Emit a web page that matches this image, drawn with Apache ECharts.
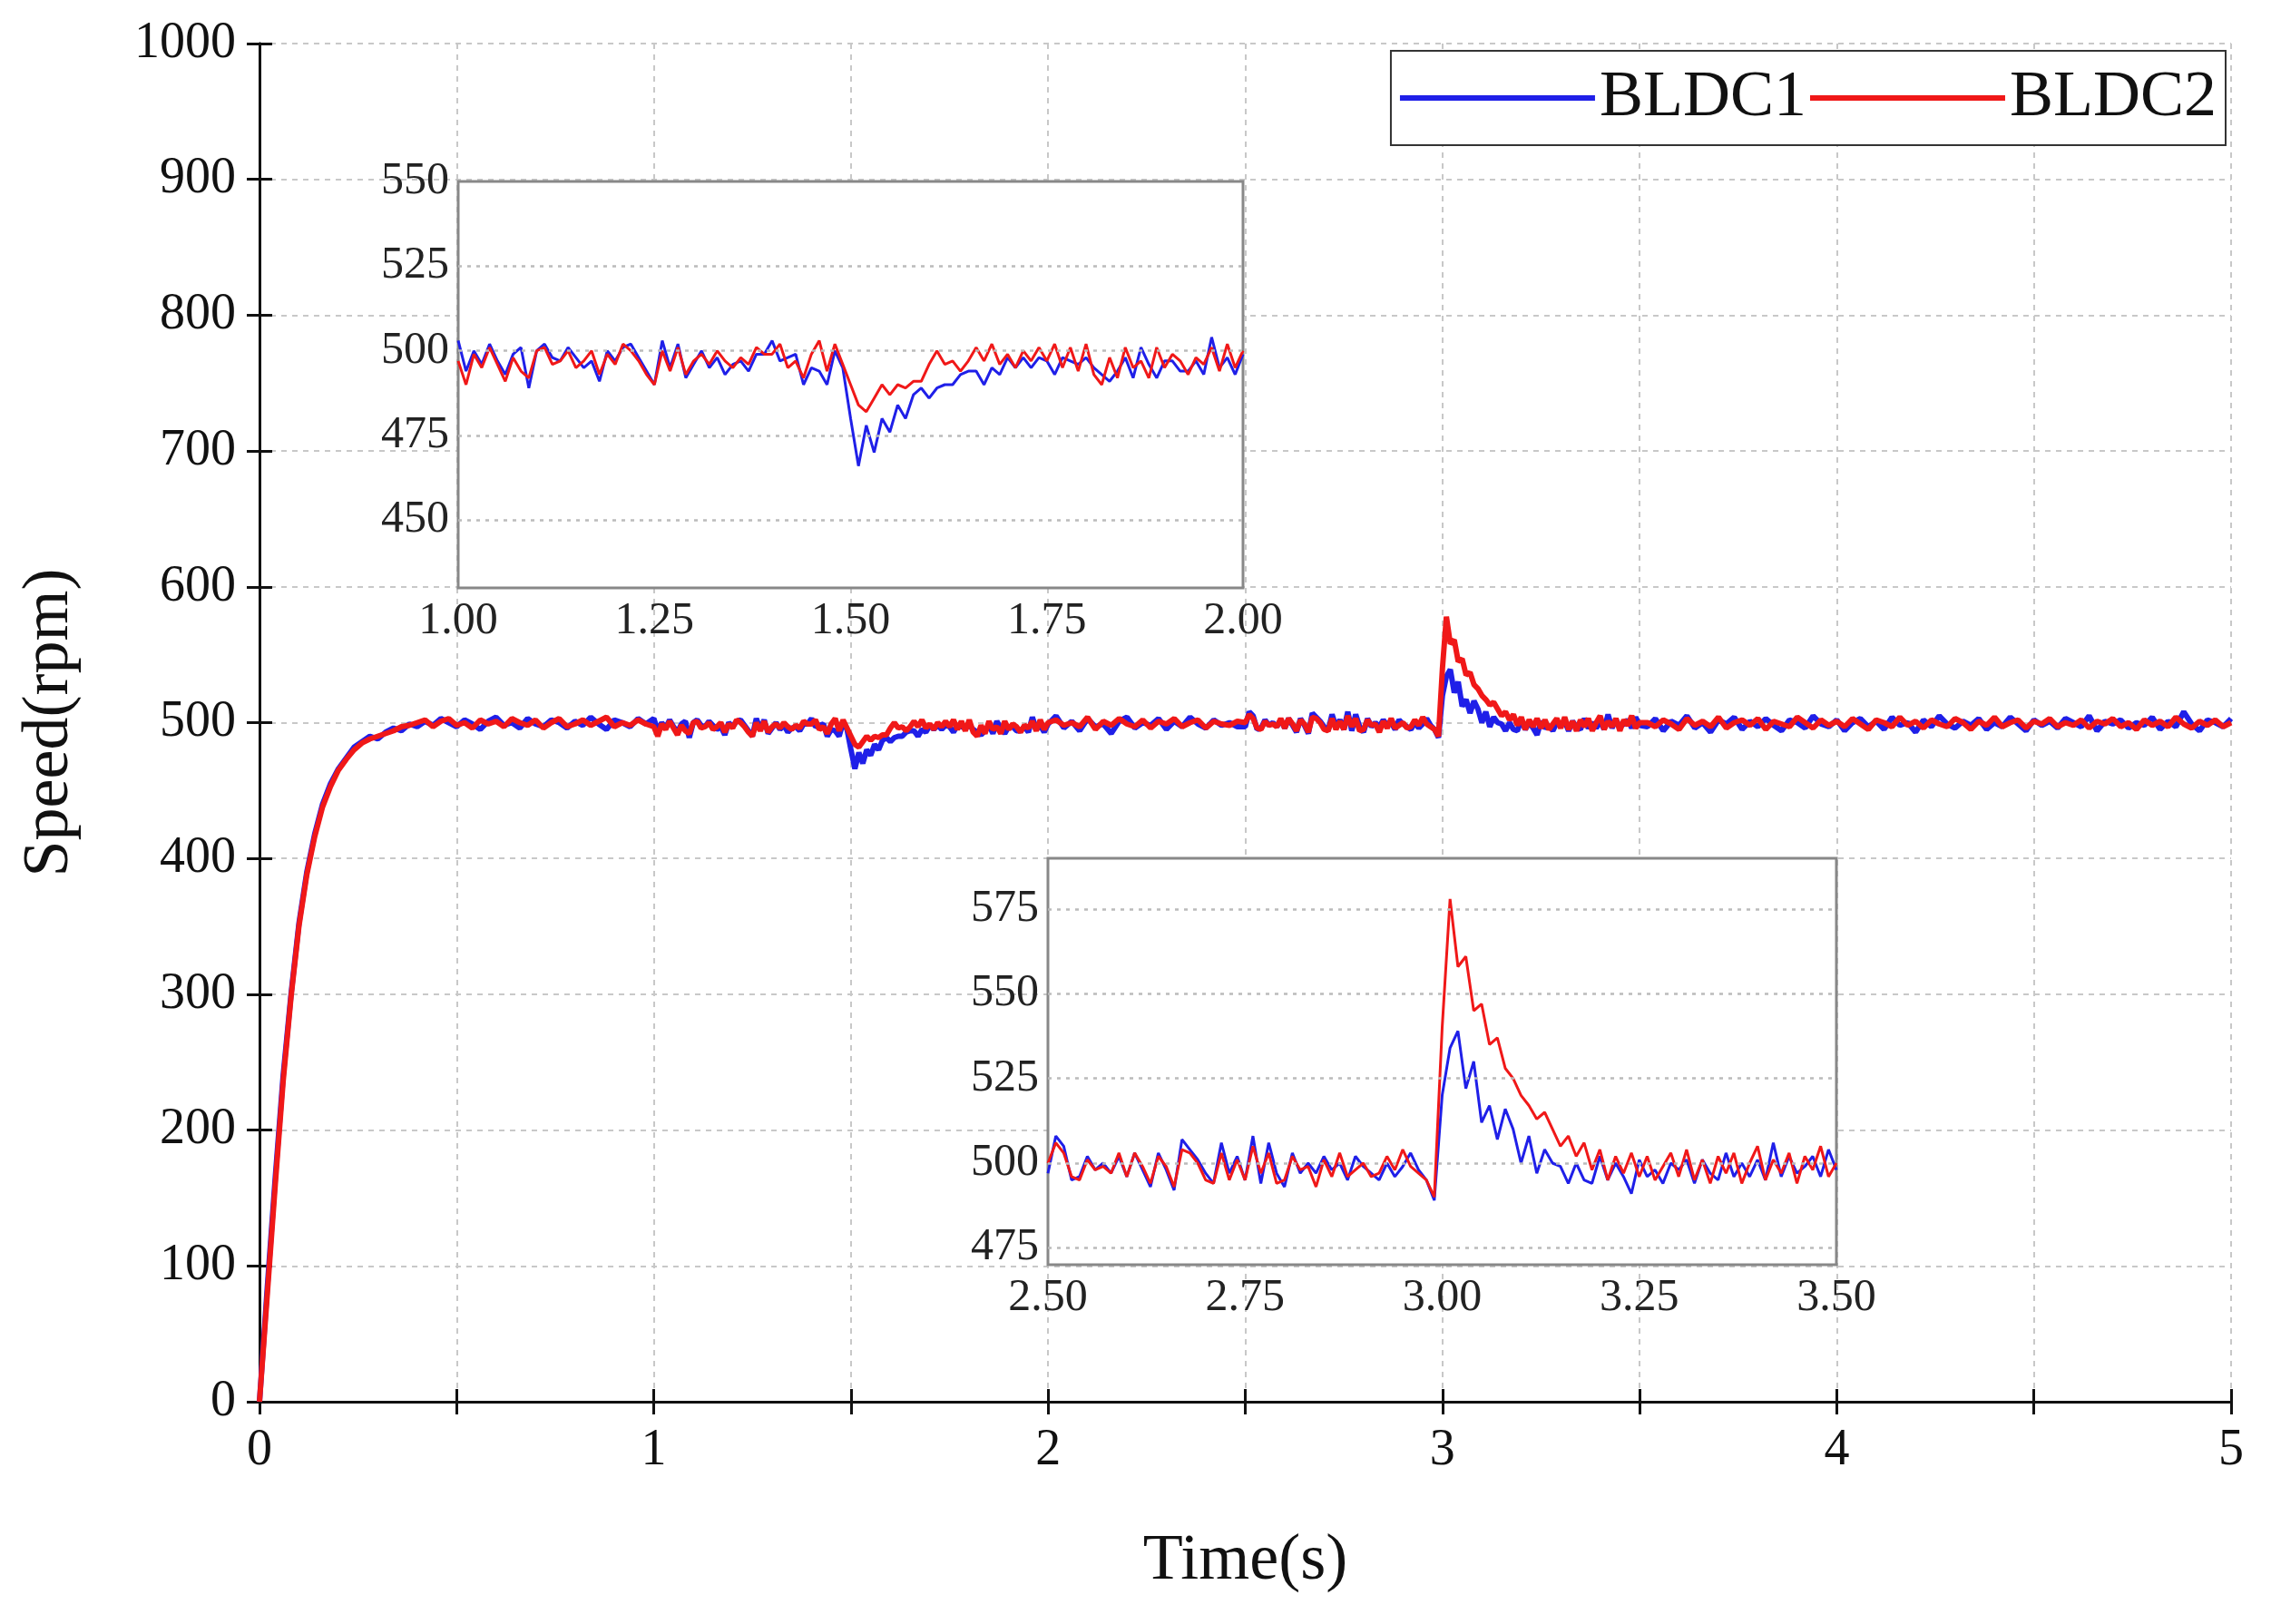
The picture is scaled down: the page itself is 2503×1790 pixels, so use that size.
<!DOCTYPE html>
<html>
<head>
<meta charset="utf-8">
<script src="https://cdn.jsdelivr.net/npm/echarts@6/dist/echarts.min.js"></script>
<style>html,body{margin:0;padding:0;background:#fff}#chart{width:2503px;height:1790px}</style>
</head>
<body>
<div id="chart"></div>
<script>
// startup 0..0.98 s, step 0.02
const startBLDC1 = [0,85,165,240,300,352,390,418,440,455,466,474,482,486,490,488,493,496,494,499,497,501,498,503,500,497,502,499,495,501,504,498,500,496,503,499,497,502,500,496,501,498,504,499,495,502,500,497,503,499];
const startBLDC2 = [0,80,160,236,298,350,388,416,438,453,465,473,480,485,488,490,492,494,497,498,500,502,497,501,503,498,500,496,502,499,501,497,503,500,498,502,496,500,503,497,499,502,498,501,504,497,500,498,502,499];
// 1.00..2.00 s, step 0.01
const dipBLDC1 = [503,494,500,496,502,497,493,499,501,489,500,502,498,497,501,498,495,497,491,500,497,501,502,498,494,490,503,495,502,492,496,500,495,498,493,496,497,494,499,499,503,497,498,499,490,495,494,490,500,495,
  480,466,478,470,480,476,484,480,487,489,
  486,489,490,490,493,494,494,490,495,493,
  498,495,498,495,498,497,493,498,497,496,
  498,495,493,491,494,498,492,501,496,492,
  497,497,494,494,497,493,504,495,498,493,499];
const dipBLDC2 = [497,490,499,495,501,496,491,498,494,492,500,501,496,497,500,495,497,500,493,499,496,502,500,497,493,490,500,494,501,493,497,499,496,500,497,495,498,496,501,499,499,502,495,497,492,499,503,494,502,496,
  490,484,482,486,490,487,490,489,491,491,
  496,500,496,497,494,497,501,497,502,496,
  499,495,500,497,501,497,502,495,501,494,
  502,493,490,498,492,501,495,497,492,501,
  495,499,497,493,498,496,501,494,502,495,500];
// 2.02..2.48 s, step 0.02
const midBLDC1 = [505,496,501,494,503,497,499,492,501,504,496,500,498,503,495,501,497,504,499,496,502,498,500,497];
const midBLDC2 = [502,498,500,497,504,495,501,498,503,499,497,502,496,501,499,503,497,500,502,496,501,499,498,501];
// 2.50..3.50 s, step 0.01
const peakBLDC1 = [497,508,505,495,496,502,498,500,497,502,496,503,498,493,503,498,492,507,504,501,497,494,506,497,502,495,508,494,506,497,493,503,497,500,497,502,498,500,495,502,499,497,495,500,496,499,503,498,495,489,
  520,534,539,522,530,512,517,507,516,510,
  500,508,497,504,500,499,494,500,495,494,
  502,495,500,496,491,501,496,498,494,500,
  498,501,494,501,497,495,503,496,500,496,
  501,495,506,496,502,497,499,502,496,504,498];
const peakBLDC2 = [500,506,503,496,495,501,498,499,497,503,496,503,499,494,502,499,493,504,503,500,495,494,503,495,501,495,505,497,503,494,495,502,498,499,493,501,496,503,496,498,500,496,497,502,498,504,499,497,495,490,
  540,578,558,561,545,547,535,537,528,525,
  520,517,513,515,510,505,508,502,506,498,
  504,495,502,497,503,496,502,495,499,503,
  496,504,495,501,494,502,497,503,494,500,
  505,495,501,497,503,494,502,498,505,496,500];
// 3.52..5.00 s, step 0.02
const tailBLDC1 = [497,503,494,501,498,505,496,500,493,502,499,504,495,501,497,503,498,494,502,500,496,505,499,497,502,494,500,503,497,501,495,504,498,500,493,502,497,505,499,496,501,498,503,495,500,497,504,499,494,502,498,501,496,503,500,497,505,494,501,499,502,496,500,498,504,495,501,497,508,499,494,502,500,497,503];
const tailBLDC2 = [500,497,502,499,495,503,498,501,497,504,496,500,502,498,503,495,501,499,497,504,500,496,502,498,501,497,503,499,495,502,500,497,504,498,501,496,502,499,497,503,500,495,501,498,504,497,500,502,496,501,499,503,497,500,498,502,496,501,499,503,497,500,495,502,498,501,497,504,499,496,501,498,502,497,500];

const mainYTicks = [0, 1000, 100];
const inset1Y = [430, 550, [450, 475, 500, 525]];
const inset2Y = [470, 590, [475, 500, 525, 550, 575]];

function seg(arr, t0, dt) {
  return arr.map((v, i) => [+(t0 + i * dt).toFixed(3), v]);
}
function whole(s, d, m, p, t) {
  return [].concat(seg(s, 0, 0.02), seg(d, 1, 0.01), seg(m, 2.02, 0.02), seg(p, 2.5, 0.01), seg(t, 3.52, 0.02)).filter(p => p[0] <= 5);
}
const full1 = whole(startBLDC1, dipBLDC1, midBLDC1, peakBLDC1, tailBLDC1);
const full2 = whole(startBLDC2, dipBLDC2, midBLDC2, peakBLDC2, tailBLDC2);

const font = 'Liberation Serif';
const blue = '#1f1fe8', red = '#f01818';
const dash = { type: [6, 6], color: '#c8c8c8', width: 2 };
const blackLine = { show: true, lineStyle: { color: '#111', width: 3 } };
const tick = { inside: true, length: 14, lineStyle: { color: '#111', width: 3 } };

function insetX(idx, min, max) {
  return {
    type: 'value', gridIndex: idx, min, max, interval: 0.25,
    axisLine: { show: false }, axisTick: { show: false },
    axisLabel: { fontFamily: font, fontSize: 50, color: '#222', margin: 12, formatter: v => v.toFixed(2) },
    splitLine: { show: true, lineStyle: { type: [5, 5], color: '#bbb', width: 1.5 } }
  };
}
function insetYAxis(idx, range) {
  return {
    type: 'value', gridIndex: idx, min: range[0], max: range[1], interval: 5,
    axisLine: { show: false }, axisTick: { show: false }, splitLine: { show: false },
    axisLabel: { fontFamily: font, fontSize: 50, color: '#222', margin: 10,
      formatter: v => (v % 25 === 0 ? String(v) : '') }
  };
}
function gridMarks(vals) {
  return {
    silent: true, symbol: 'none', label: { show: false },
    lineStyle: { type: [4, 6], color: '#bbb', width: 2.5 },
    data: vals.map(v => ({ yAxis: v }))
  };
}
function line(name, data, color, xi, yi, w, extra) {
  return Object.assign({
    name, type: 'line', xAxisIndex: xi, yAxisIndex: yi, data,
    symbol: 'none', showSymbol: false, animation: false, lineStyle: { color, width: w }, itemStyle: { color }
  }, extra || {});
}

const chart = echarts.init(document.getElementById('chart'));
chart.setOption({
  backgroundColor: '#fff',
  animation: false,
  legend: {
    data: [{ name: 'BLDC1', icon: 'rect' }, { name: 'BLDC2', icon: 'rect' }], right: 50, top: 56, orient: 'horizontal',
    itemWidth: 215, itemHeight: 6, itemGap: 4,
    textStyle: { fontFamily: font, fontSize: 72, color: '#111' },
    borderColor: '#333', borderWidth: 2, padding: [16, 10, 16, 10], backgroundColor: '#fff'
  },
  grid: [
    { left: 286, top: 48, width: 2173, height: 1497 },
    { left: 505, top: 200, width: 865, height: 448, show: true, borderColor: '#888', borderWidth: 3, backgroundColor: '#fff', z: 3 },
    { left: 1155, top: 946, width: 869, height: 448, show: true, borderColor: '#888', borderWidth: 3, backgroundColor: '#fff', z: 3 }
  ],
  xAxis: [
    { type: 'value', gridIndex: 0, min: 0, max: 5, interval: 0.5, name: 'Time(s)', nameLocation: 'middle', nameGap: 140,
      nameTextStyle: { fontFamily: font, fontSize: 72, color: '#111' },
      axisLine: blackLine, axisTick: tick,
      axisLabel: { fontFamily: font, fontSize: 56, color: '#111', margin: 26, formatter: v => (v % 1 === 0 ? String(v) : '') },
      splitLine: { show: true, lineStyle: dash } },
    { type: 'value', gridIndex: 0, position: 'top', min: 0, max: 5, interval: 0.5,
      axisLine: blackLine, axisLabel: { show: false }, splitLine: { show: false }, axisTick: tick },
    insetX(1, 1, 2),
    insetX(2, 2.5, 3.5)
  ],
  yAxis: [
    { type: 'value', gridIndex: 0, min: mainYTicks[0], max: mainYTicks[1], interval: mainYTicks[2],
      name: 'Speed(rpm)', nameLocation: 'middle', nameGap: 195,
      nameTextStyle: { fontFamily: font, fontSize: 72, color: '#111' },
      axisLine: blackLine, axisTick: tick,
      axisLabel: { fontFamily: font, fontSize: 56, color: '#111', margin: 26, formatter: v => String(v) },
      splitLine: { show: true, lineStyle: dash } },
    { type: 'value', gridIndex: 0, position: 'right', min: 0, max: 1000, interval: 100,
      axisLine: blackLine, axisLabel: { show: false }, splitLine: { show: false }, axisTick: tick },
    insetYAxis(1, inset1Y),
    insetYAxis(2, inset2Y)
  ],
  series: [
    line('BLDC1', full1, blue, 0, 0, 6),
    line('BLDC2', full2, red, 0, 0, 6),
    line('BLDC1', seg(dipBLDC1, 1, 0.01), blue, 2, 2, 3, { markLine: gridMarks(inset1Y[2]), z: 4 }),
    line('BLDC2', seg(dipBLDC2, 1, 0.01), red, 2, 2, 3, { z: 4 }),
    line('BLDC1', seg(peakBLDC1, 2.5, 0.01), blue, 3, 3, 3, { markLine: gridMarks(inset2Y[2]), z: 4 }),
    line('BLDC2', seg(peakBLDC2, 2.5, 0.01), red, 3, 3, 3, { z: 4 })
  ]
});
</script>
</body>
</html>
